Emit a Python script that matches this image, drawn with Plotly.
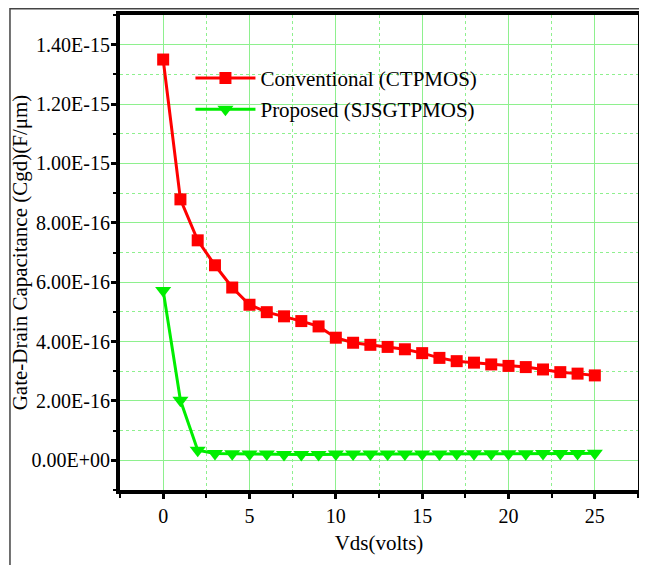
import plotly.graph_objects as go

vds = list(range(0, 26))
conventional = [1.35e-15, 8.79e-16, 7.41e-16, 6.57e-16, 5.82e-16, 5.24e-16, 4.99e-16, 4.85e-16,
                4.69e-16, 4.51e-16, 4.13e-16, 3.96e-16, 3.89e-16, 3.82e-16, 3.74e-16, 3.61e-16,
                3.45e-16, 3.34e-16, 3.29e-16, 3.23e-16, 3.18e-16, 3.14e-16, 3.06e-16, 2.97e-16,
                2.92e-16, 2.86e-16]
proposed = [5.72e-16, 2.02e-16, 3.4e-17, 2.3e-17, 2.2e-17, 2.1e-17, 2.1e-17, 2.0e-17,
            2.0e-17, 2.0e-17, 2.1e-17, 2.1e-17, 2.1e-17, 2.1e-17, 2.1e-17, 2.1e-17,
            2.1e-17, 2.2e-17, 2.2e-17, 2.2e-17, 2.2e-17, 2.2e-17, 2.3e-17, 2.3e-17,
            2.3e-17, 2.4e-17]
y_tickvals = [0, 2e-16, 4e-16, 6e-16, 8e-16, 1.0e-15, 1.2e-15, 1.4e-15]
y_ticktext = ["0.00E+00", "2.00E-16", "4.00E-16", "6.00E-16", "8.00E-16",
              "1.00E-15", "1.20E-15", "1.40E-15"]
x_tickvals = [0, 5, 10, 15, 20, 25]

FONT = "'Liberation Serif', 'Times New Roman', Times, serif"
FS = 21
TFS = 20
GRID = "#8ef08e"

fig = go.Figure()
fig.add_trace(go.Scatter(x=vds, y=conventional, mode="lines+markers",
                         name="Conventional (CTPMOS)", legendgroup="a",
                         line=dict(color="#ff0000", width=3),
                         marker=dict(symbol="square", size=12, color="#ff0000")))
fig.add_trace(go.Scatter(x=vds, y=proposed, mode="lines+markers",
                         name="Proposed (SJSGTPMOS)", legendgroup="b",
                         line=dict(color="#00ee00", width=3),
                         marker=dict(symbol="triangle-down", size=14, color="#00ee00")))

axis_common = dict(showline=True, linewidth=4, linecolor="black", mirror=True,
                   ticks="outside", ticklen=5, tickwidth=3, tickcolor="black",
                   showgrid=True, gridcolor=GRID, gridwidth=1, zeroline=False,
                   automargin=False,
                   tickfont=dict(family=FONT, size=TFS, color="black"))

fig.update_xaxes(range=[-2.5, 27.5], tickvals=x_tickvals,
                 title=dict(text="Vds(volts)", font=dict(family=FONT, size=FS, color="black"), standoff=10),
                 minor=dict(dtick=2.5, tick0=2.5, ticks="outside", ticklen=4, tickwidth=2,
                            tickcolor="black", showgrid=True, gridcolor=GRID, griddash="dot"),
                 **axis_common)
fig.update_yaxes(range=[-1e-16, 1.5e-15], tickvals=y_tickvals, ticktext=y_ticktext,
                 ticklabelstandoff=-3,
                 title=dict(text="Gate-Drain Capacitance (Cgd)(F/μm)",
                            font=dict(family=FONT, size=FS, color="black"), standoff=0),
                 minor=dict(tickvals=[-1e-16, 1e-16, 3e-16, 5e-16, 7e-16, 9e-16, 1.1e-15, 1.3e-15, 1.5e-15],
                            ticks="outside", ticklen=3, tickwidth=2,
                            tickcolor="black", showgrid=True, gridcolor=GRID, griddash="dot"),
                 **axis_common)

fig.update_layout(width=639, height=557, plot_bgcolor="white", paper_bgcolor="white",
                  margin=dict(l=112, r=9, t=7, b=75, autoexpand=False),
                  font=dict(family=FONT, size=FS, color="black"),
                  legend=dict(x=0.136, y=0.91, xanchor="left", yanchor="top",
                              bgcolor="rgba(0,0,0,0)", borderwidth=0,
                              font=dict(family=FONT, size=FS, color="black"),
                              itemwidth=60, tracegroupgap=1),
                  shapes=[dict(type="rect", xref="paper", yref="paper",
                               x0=-0.2124, x1=1.0135, y0=-0.2, y1=1.0132,
                               line=dict(color="#444444", width=1.5), layer="below")])

fig.write_html("out.html")
